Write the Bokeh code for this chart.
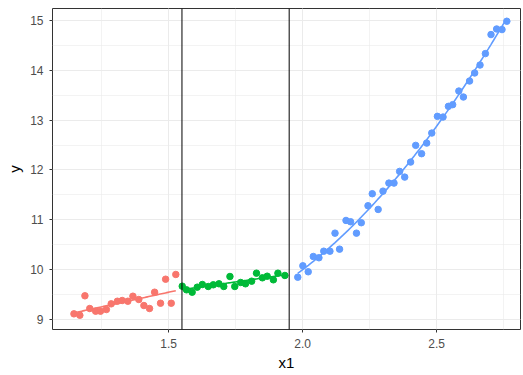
import numpy as np
from bokeh.plotting import figure
from bokeh.models import Span, SingleIntervalTicker, Range1d, CustomJSTickFormatter
from bokeh.embed import file_html
from bokeh.resources import INLINE

# ---- data ----
x_red = [1.147, 1.169, 1.188, 1.206, 1.228, 1.246, 1.268, 1.286, 1.309, 1.327,
         1.348, 1.367, 1.389, 1.408, 1.429, 1.448, 1.470, 1.489, 1.510, 1.527]
y_red = [9.114, 9.086, 9.476, 9.221, 9.167, 9.167, 9.201, 9.315, 9.367, 9.382,
         9.367, 9.468, 9.402, 9.281, 9.221, 9.548, 9.327, 9.809, 9.327, 9.904]

x_green = [1.551, 1.567, 1.588, 1.607, 1.626, 1.648, 1.667, 1.688, 1.706, 1.729,
           1.747, 1.769, 1.787, 1.810, 1.828, 1.850, 1.868, 1.891, 1.908, 1.934]
y_green = [9.669, 9.596, 9.548, 9.649, 9.703, 9.663, 9.697, 9.717, 9.663, 9.863,
           9.663, 9.743, 9.717, 9.769, 9.930, 9.837, 9.869, 9.797, 9.930, 9.884]

x_blue = [1.982, 2.001, 2.021, 2.040, 2.061, 2.079, 2.102, 2.121, 2.138, 2.162,
          2.179, 2.201, 2.219, 2.244, 2.260, 2.282, 2.300, 2.322, 2.341, 2.362,
          2.381, 2.403, 2.422, 2.444, 2.463, 2.482, 2.503, 2.524, 2.544, 2.560,
          2.583, 2.600, 2.623, 2.642, 2.662, 2.682, 2.703, 2.724, 2.744, 2.762]
y_blue = [9.849, 10.078, 9.958, 10.265, 10.239, 10.371, 10.371, 10.733, 10.412, 10.988,
          10.962, 10.733, 10.942, 11.283, 11.524, 11.209, 11.576, 11.737, 11.737, 11.972,
          11.857, 12.159, 12.494, 12.327, 12.540, 12.741, 13.076, 13.062, 13.277, 13.311,
          13.584, 13.464, 13.785, 13.946, 14.106, 14.335, 14.717, 14.829, 14.817, 14.984]

breakpoints = [1.55, 1.95]
colors = ["#F8766D", "#00BA38", "#619CFF"]
fit_degree = [1, 1, 2]

FONT = "Liberation Sans"

p = figure(width=523, height=375, output_backend="svg", toolbar_location=None,
           x_range=Range1d(1.067, 2.813), y_range=Range1d(8.80, 15.24),
           x_axis_label="x1", y_axis_label="y")
p.min_border_left = 52
p.min_border_right = 3
p.min_border_top = 8
p.min_border_bottom = 46
p.background_fill_color = "white"
p.border_fill_color = "white"
p.outline_line_color = "#333333"
p.outline_line_width = 1

p.xaxis.ticker = SingleIntervalTicker(interval=0.5, num_minor_ticks=2)
p.yaxis.ticker = SingleIntervalTicker(interval=1, num_minor_ticks=2)
p.xaxis.formatter = CustomJSTickFormatter(code="return tick.toFixed(1);")

for ax in (p.xaxis[0], p.yaxis[0]):
    ax.axis_line_color = None
    ax.major_tick_in = 0
    ax.major_tick_out = 3
    ax.major_tick_line_color = "#333333"
    ax.minor_tick_line_color = None
    ax.major_label_text_font = FONT
    ax.major_label_text_font_size = "12px"
    ax.major_label_text_color = "#4D4D4D"
    ax.axis_label_text_font = FONT
    ax.axis_label_text_font_size = "15px"
    ax.axis_label_text_font_style = "normal"
    ax.axis_label_text_color = "black"
p.xaxis.major_label_standoff = 5
p.xaxis.axis_label_standoff = 3
p.yaxis.major_label_standoff = 5
p.yaxis.axis_label_standoff = 4

for g in (p.xgrid[0], p.ygrid[0]):
    g.grid_line_color = "#EBEBEB"
    g.grid_line_width = 1
    g.minor_grid_line_color = "#EBEBEB"
    g.minor_grid_line_width = 0.6

for b in breakpoints:
    p.add_layout(Span(location=b, dimension="height", line_color="black", line_width=1))

groups = [(x_red, y_red), (x_green, y_green), (x_blue, y_blue)]
for (xs, ys), c, deg in zip(groups, colors, fit_degree):
    xs_a = np.array(xs)
    ys_a = np.array(ys)
    coef = np.polyfit(xs_a, ys_a, deg)
    xf = np.linspace(xs_a.min(), xs_a.max(), 80)
    yf = np.polyval(coef, xf)
    p.line(xf, yf, line_color=c, line_width=1.6)
    p.scatter(xs, ys, size=6.5, fill_color=c, line_color=c)

open("out.html", "w").write(file_html(p, INLINE))
